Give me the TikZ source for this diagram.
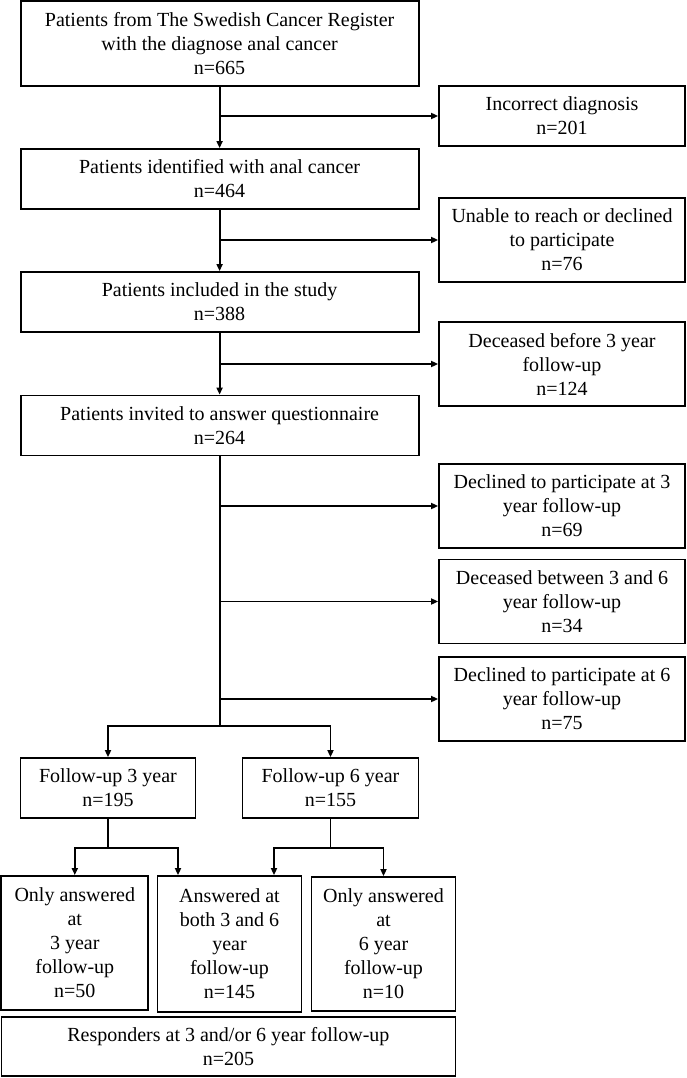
\documentclass[tikz,border=0pt]{standalone}
\usepackage{fontspec}
\setmainfont{Liberation Serif}
\usepackage{tikz}
\usetikzlibrary{arrows.meta,positioning,calc}

\begin{document}
\begin{tikzpicture}[x=1pt,y=-1pt,
    box/.style={draw, line width=1.8pt, align=center, inner sep=0pt, font=\fontsize{20}{24}\selectfont},
    mainbox/.style={box, minimum width=398pt, minimum height=60pt},
    sidebox/.style={box, minimum width=246pt, minimum height=84pt},
    arr/.style={line width=1.8pt, -{Triangle[length=7pt,width=6pt]}},
    lin/.style={line width=1.8pt}]
\useasboundingbox (0,0) rectangle (686,1078);
% main column
\node[mainbox, minimum height=85pt] (reg) at (219.6,43.5) {Patients from The Swedish Cancer Register\\with the diagnose anal cancer\\n=665};
\node[mainbox] (ident) at (219.6,179) {Patients identified with anal cancer\\n=464};
\node[mainbox] (incl) at (219.6,302) {Patients included in the study\\n=388};
\node[mainbox] (invit) at (219.6,425.5) {Patients invited to answer questionnaire\\n=264};
% excluded
\node[sidebox, minimum height=60pt] (incorr) at (562,116) {Incorrect diagnosis\\n=201};
\node[sidebox] (unable) at (562,240) {Unable to reach or declined\\to participate\\n=76};
\node[sidebox] (dec3) at (562,364) {Deceased before 3 year\\follow-up\\n=124};
\node[sidebox] (decl3) at (562,506) {Declined to participate at 3\\year follow-up\\n=69};
\node[sidebox] (dec36) at (562,601.5) {Deceased between 3 and 6\\year follow-up\\n=34};
\node[sidebox] (decl6) at (562,699) {Declined to participate at 6\\year follow-up\\n=75};
% follow-up
\node[box, minimum width=175pt, minimum height=60pt] (fu3) at (108,788) {Follow-up 3 year\\n=195};
\node[box, minimum width=176pt, minimum height=60pt] (fu6) at (330.5,788) {Follow-up 6 year\\n=155};
\node[box, minimum width=147pt, minimum height=134pt] (only3) at (74.8,943) {Only answered\\at\\3 year\\follow-up\\n=50};
\node[box, minimum width=144pt, minimum height=136pt] (both) at (229.5,944) {Answered at\\both 3 and 6\\year\\follow-up\\n=145};
\node[box, minimum width=144pt, minimum height=134pt] (only6) at (383.5,944) {Only answered\\at\\6 year\\follow-up\\n=10};
\node[box, minimum width=454pt, minimum height=59pt] (resp) at (228.4,1046.5) {Responders at 3 and/or 6 year follow-up\\n=205};

\coordinate (split) at (219.6,726);
\coordinate (fu3b) at (108,848);
\coordinate (fu6b) at (330.5,848);

\draw[arr] (reg) -- (ident);
\draw[arr] (ident) -- (incl);
\draw[arr] (incl) -- (invit);
\draw[arr] (reg.south |- incorr) -- (incorr);
\draw[arr] (ident.south |- unable) -- (unable);
\draw[arr] (incl.south |- dec3) -- (dec3);
\draw[lin] (invit) -- (split);
\draw[arr] (invit.south |- decl3) -- (decl3);
\draw[arr] (invit.south |- dec36) -- (dec36);
\draw[arr] (invit.south |- decl6) -- (decl6);
\draw[arr] (split) -| (fu3);
\draw[arr] (split) -| (fu6);

\draw[lin] (fu3) -- (fu3b);
\draw[arr] (fu3b) -| (only3);
\draw[arr] (fu3b) -| ([xshift=-51.5pt]both.north);
\draw[lin] (fu6) -- (fu6b);
\draw[arr] (fu6b) -| ([xshift=44.5pt]both.north);
\draw[arr] (fu6b) -| (only6);
\end{tikzpicture}
\end{document}
